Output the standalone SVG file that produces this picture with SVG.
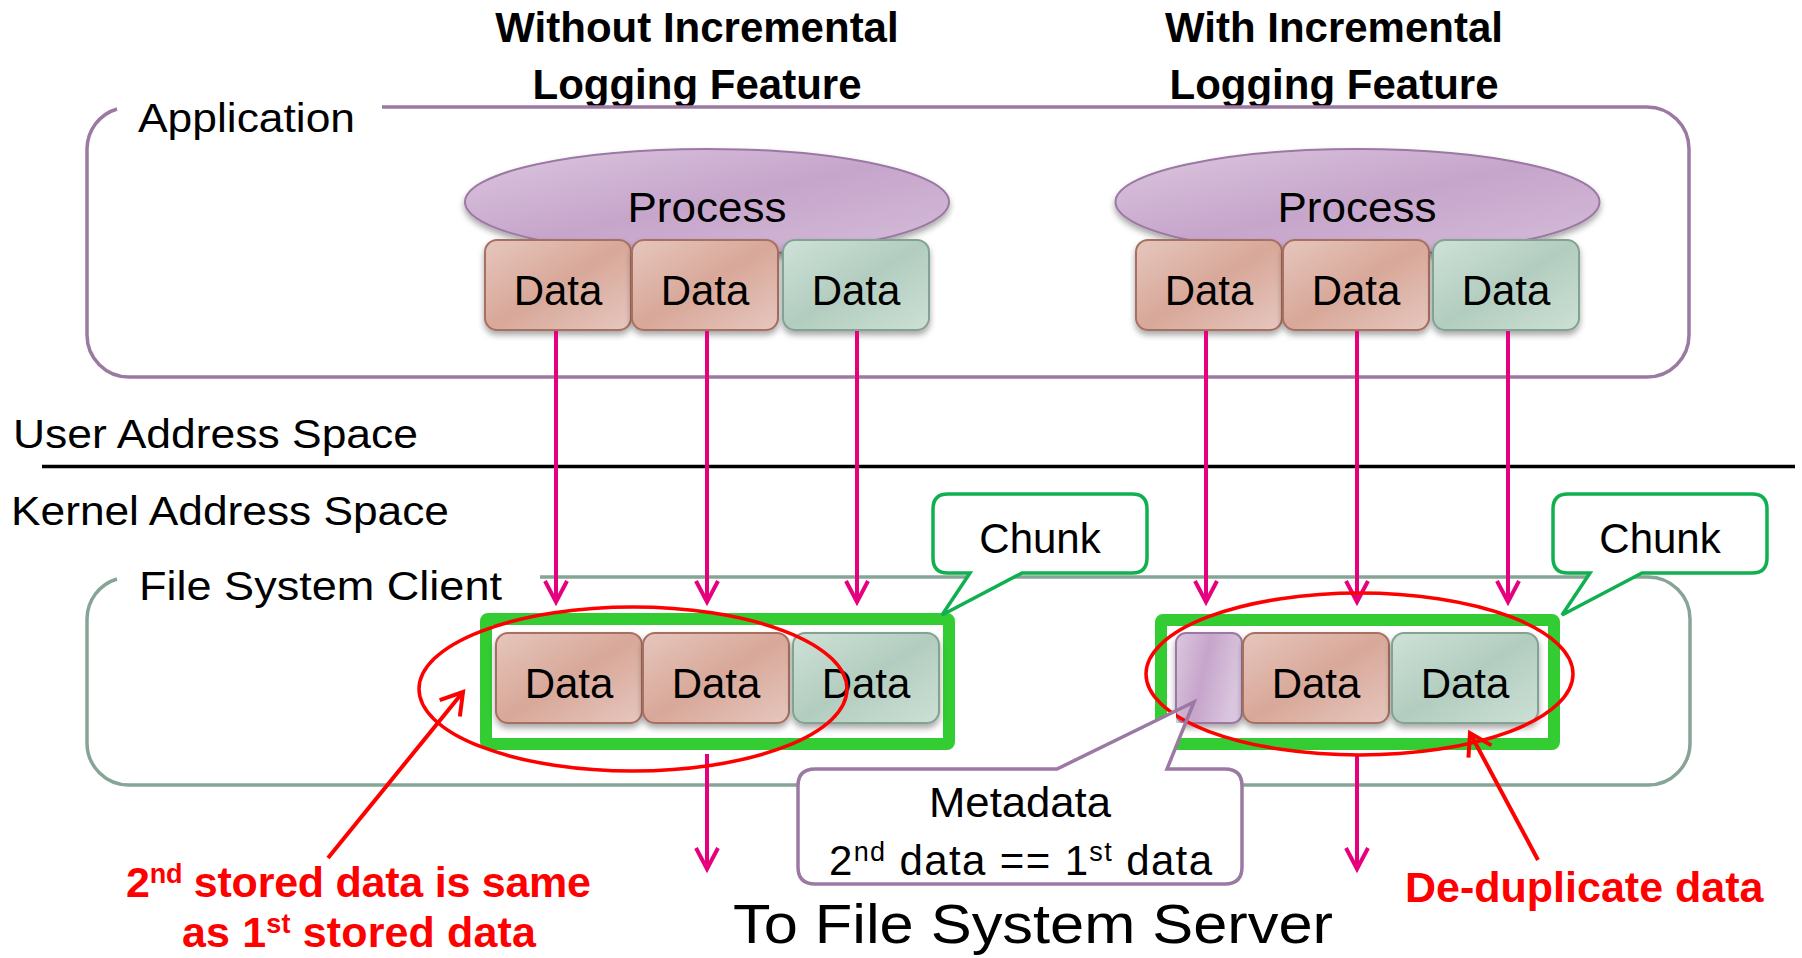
<svg xmlns="http://www.w3.org/2000/svg" width="1802" height="958" viewBox="0 0 1802 958">
<defs>
<style>
.t{font-family:"Liberation Sans",Arial,sans-serif;fill:#000}
.title{font-weight:bold;font-size:42px;text-anchor:middle}
.lbl{font-size:40px}
.data{font-size:42px;text-anchor:middle}
.red{font-family:"Liberation Sans",Arial,sans-serif;font-weight:bold;fill:#ff0000;font-size:43px}
.frameA{fill:none;stroke:#9b79a3;stroke-width:3.5}
.frameF{fill:none;stroke:#87a596;stroke-width:3.5}
.boxR{fill:url(#gR);stroke:#a87060;stroke-width:2}
.boxG{fill:url(#gG);stroke:#82a392;stroke-width:2}
.boxP{fill:url(#gP);stroke:#9b79a3;stroke-width:2}
.chunk{fill:none;stroke:#33cc33;stroke-width:12}
.callG{fill:#fff;stroke:#10b050;stroke-width:3.5;stroke-linejoin:miter}
.mag{stroke:#e6007e;stroke-width:4;fill:none}
.redl{stroke:#ff0000;stroke-width:4;fill:none}
.redE{fill:none;stroke:#ff0000;stroke-width:3.5}
</style>
<linearGradient id="gR" x1="0" y1="0" x2="1" y2="1">
<stop offset="0" stop-color="#e6c6bd"/><stop offset="0.5" stop-color="#d8a899"/><stop offset="1" stop-color="#e6c7bf"/>
</linearGradient>
<linearGradient id="gG" x1="0" y1="0" x2="1" y2="1">
<stop offset="0" stop-color="#cfe1d7"/><stop offset="0.5" stop-color="#b2cdbf"/><stop offset="1" stop-color="#cde0d5"/>
</linearGradient>
<linearGradient id="gP" x1="0" y1="0" x2="1" y2="0.3">
<stop offset="0" stop-color="#dcc8df"/><stop offset="0.5" stop-color="#c6a5cb"/><stop offset="1" stop-color="#dac6de"/>
</linearGradient>
<linearGradient id="gE" x1="0" y1="0" x2="1" y2="1">
<stop offset="0" stop-color="#dcc7df"/><stop offset="0.5" stop-color="#c6a5cb"/><stop offset="1" stop-color="#d6bdda"/>
</linearGradient>
<filter id="sh" x="-10%" y="-10%" width="120%" height="140%">
<feDropShadow dx="0" dy="4" stdDeviation="3" flood-color="#000" flood-opacity="0.35"/>
</filter>
<marker id="am" markerUnits="userSpaceOnUse" orient="auto" refX="0" refY="0" markerWidth="40" markerHeight="40" overflow="visible">
<path d="M-21,-11 L0,0 L-21,11" fill="none" stroke="#e6007e" stroke-width="4"/>
</marker>
<marker id="ar" markerUnits="userSpaceOnUse" orient="auto" refX="0" refY="0" markerWidth="40" markerHeight="40" overflow="visible">
<path d="M-21,-13 L0,0 L-21,13" fill="none" stroke="#ff0000" stroke-width="4"/>
</marker>
<clipPath id="noP">
<path clip-rule="evenodd" d="M0,0 H1802 V958 H0 Z M1176,633 H1242 V723 H1176 Z"/>
</clipPath>
</defs>
<rect width="1802" height="958" fill="#fff"/>

<g id="titles">
<text class="t title" x="697" y="42">Without Incremental</text>
<text class="t title" x="697" y="99">Logging Feature</text>
<text class="t title" x="1334" y="42">With Incremental</text>
<text class="t title" x="1334" y="99">Logging Feature</text>
</g>

<g id="application">
<path class="frameA" d="M382,107 H1647 A42,42 0 0 1 1689,149 V335 A42,42 0 0 1 1647,377 H129 A42,42 0 0 1 87,335 V149 A42,42 0 0 1 117,109"/>
<text class="t lbl" x="138" y="132" textLength="217" lengthAdjust="spacingAndGlyphs">Application</text>
</g>

<g id="process-left">
<ellipse cx="707" cy="202" rx="242" ry="53" fill="url(#gE)" stroke="#9b79a3" stroke-width="2" filter="url(#sh)"/>
<text class="t data" x="707" y="222" textLength="159" lengthAdjust="spacingAndGlyphs">Process</text>
<rect class="boxR" x="485" y="240" width="146" height="90" rx="12" filter="url(#sh)"/>
<text class="t data" x="558" y="305">Data</text>
<rect class="boxR" x="632" y="240" width="146" height="90" rx="12" filter="url(#sh)"/>
<text class="t data" x="705" y="305">Data</text>
<rect class="boxG" x="783" y="240" width="146" height="90" rx="12" filter="url(#sh)"/>
<text class="t data" x="856" y="305">Data</text>
</g>

<g id="process-right">
<ellipse cx="1357.5" cy="202" rx="242" ry="53" fill="url(#gE)" stroke="#9b79a3" stroke-width="2" filter="url(#sh)"/>
<text class="t data" x="1357" y="222" textLength="159" lengthAdjust="spacingAndGlyphs">Process</text>
<rect class="boxR" x="1136" y="240" width="146" height="90" rx="12" filter="url(#sh)"/>
<text class="t data" x="1209" y="305">Data</text>
<rect class="boxR" x="1283" y="240" width="146" height="90" rx="12" filter="url(#sh)"/>
<text class="t data" x="1356" y="305">Data</text>
<rect class="boxG" x="1433" y="240" width="146" height="90" rx="12" filter="url(#sh)"/>
<text class="t data" x="1506" y="305">Data</text>
</g>

<g id="address-spaces">
<text class="t lbl" x="13" y="448" textLength="405" lengthAdjust="spacingAndGlyphs">User Address Space</text>
<line x1="42" y1="466.5" x2="1795" y2="466.5" stroke="#000" stroke-width="3.5"/>
<text class="t lbl" x="11" y="525" textLength="438" lengthAdjust="spacingAndGlyphs">Kernel Address Space</text>
</g>

<g id="fs-client">
<path class="frameF" d="M540,577 H1648 A42,42 0 0 1 1690,619 V743 A42,42 0 0 1 1648,785 H129 A42,42 0 0 1 87,743 V619 A42,42 0 0 1 117,579"/>
<text class="t lbl" x="139" y="600" textLength="363" lengthAdjust="spacingAndGlyphs">File System Client</text>
</g>

<g id="chunk-left">
<rect class="chunk" x="486" y="619" width="463" height="125" rx="2"/>
<rect class="boxR" x="496" y="633" width="146" height="90" rx="12" filter="url(#sh)"/>
<text class="t data" x="569" y="698">Data</text>
<rect class="boxR" x="643" y="633" width="146" height="90" rx="12" filter="url(#sh)"/>
<text class="t data" x="716" y="698">Data</text>
<rect class="boxG" x="793" y="633" width="146" height="90" rx="12" filter="url(#sh)"/>
<text class="t data" x="866" y="698">Data</text>
</g>

<g id="chunk-right">
<rect class="chunk" x="1161" y="620" width="393" height="124" rx="2"/>
<rect class="boxP" x="1176" y="633" width="66" height="90" rx="10" filter="url(#sh)"/>
<rect class="boxR" x="1243" y="633" width="146" height="90" rx="12" filter="url(#sh)"/>
<text class="t data" x="1316" y="698">Data</text>
<rect class="boxG" x="1392" y="633" width="146" height="90" rx="12" filter="url(#sh)"/>
<text class="t data" x="1465" y="698">Data</text>
</g>

<g id="callout-chunk-left">
<path class="callG" d="M948,494 L1132,494 Q1147,494 1147,509 L1147,558 Q1147,573 1132,573 L1022,573 L942,615 L970,573 L948,573 Q933,573 933,558 L933,509 Q933,494 948,494 Z"/>
<text class="t data" x="1040" y="553">Chunk</text>
</g>

<g id="callout-chunk-right">
<path class="callG" d="M1568,494 L1752,494 Q1767,494 1767,509 L1767,558 Q1767,573 1752,573 L1642,573 L1562,615 L1590,573 L1568,573 Q1553,573 1553,558 L1553,509 Q1553,494 1568,494 Z"/>
<text class="t data" x="1660" y="553">Chunk</text>
</g>

<g id="connectors">
<line class="mag" x1="556" y1="331" x2="556" y2="602" marker-end="url(#am)"/>
<line class="mag" x1="707" y1="331" x2="707" y2="602" marker-end="url(#am)"/>
<line class="mag" x1="857" y1="331" x2="857" y2="602" marker-end="url(#am)"/>
<line class="mag" x1="1206" y1="331" x2="1206" y2="602" marker-end="url(#am)"/>
<line class="mag" x1="1357" y1="331" x2="1357" y2="602" marker-end="url(#am)"/>
<line class="mag" x1="1508" y1="331" x2="1508" y2="602" marker-end="url(#am)"/>
<line class="mag" x1="707" y1="754" x2="707" y2="869" marker-end="url(#am)"/>
<line class="mag" x1="1357" y1="754" x2="1357" y2="869" marker-end="url(#am)"/>
<line class="redl" x1="328" y1="858" x2="463" y2="692" marker-end="url(#ar)"/>
<line class="redl" x1="1538" y1="860" x2="1470" y2="733" marker-end="url(#ar)"/>
</g>

<g id="dedup-marks">
<ellipse class="redE" cx="633" cy="689" rx="214" ry="82"/>
<ellipse class="redE" cx="1359.5" cy="674" rx="213.5" ry="81"/>
</g>

<g id="callout-metadata">
<path d="M815,769 L1057,769 L1194,702 L1167,769 L1225,769 Q1242,769 1242,786 L1242,867 Q1242,884 1225,884 L815,884 Q798,884 798,867 L798,786 Q798,769 815,769 Z" fill="#fff" stroke="none" clip-path="url(#noP)"/>
<path d="M815,769 L1057,769 L1194,702 L1167,769 L1225,769 Q1242,769 1242,786 L1242,867 Q1242,884 1225,884 L815,884 Q798,884 798,867 L798,786 Q798,769 815,769 Z" fill="none" stroke="#9b79a3" stroke-width="3.5"/>
<text class="t data" x="1020" y="817" textLength="182" lengthAdjust="spacingAndGlyphs">Metadata</text>
<text class="t" font-size="42" x="829" y="875" textLength="383" lengthAdjust="spacing">2<tspan font-size="27" dy="-14">nd</tspan><tspan dy="14"> data == 1</tspan><tspan font-size="27" dy="-14">st</tspan><tspan dy="14"> data</tspan></text>
</g>

<g id="bottom-text">
<text class="t" font-size="56" x="733" y="943" textLength="600" lengthAdjust="spacingAndGlyphs">To File System Server</text>
<text class="red" font-size="41" x="126" y="897" textLength="465" lengthAdjust="spacing">2<tspan font-size="27" dy="-14">nd</tspan><tspan dy="14"> stored data is same</tspan></text>
<text class="red" font-size="41" x="182" y="947" textLength="354" lengthAdjust="spacing">as 1<tspan font-size="27" dy="-14">st</tspan><tspan dy="14"> stored data</tspan></text>
<text class="red" x="1405" y="902">De-duplicate data</text>
</g>
</svg>
